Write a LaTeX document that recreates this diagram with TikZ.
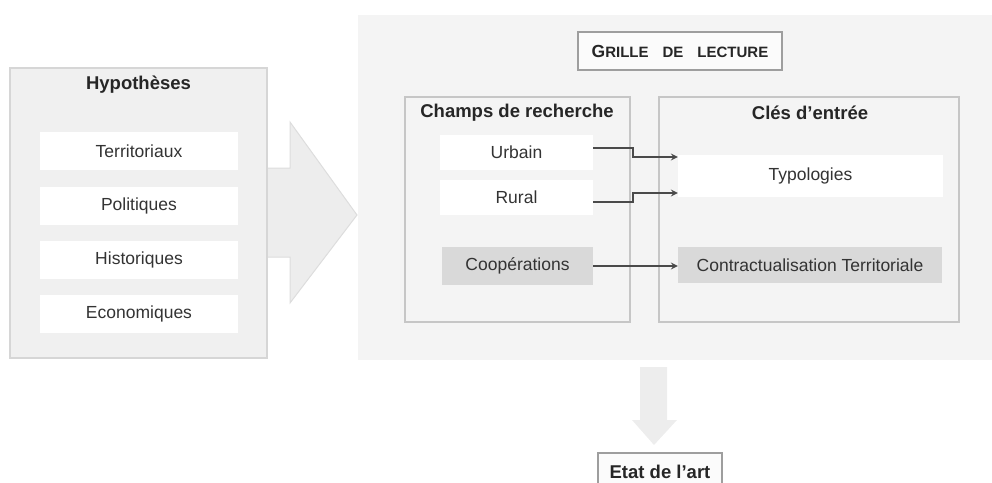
\documentclass[tikz,border=0pt]{standalone}
\usepackage{fontspec}
\setmainfont{Liberation Sans}
\usepackage{tikz}
\usetikzlibrary{arrows,positioning}

\definecolor{panelgray}{HTML}{F4F4F4}
\definecolor{leftgray}{HTML}{F0F0F0}
\definecolor{edgegray}{HTML}{D6D6D6}
\definecolor{boxedge}{HTML}{C6C6C6}
\definecolor{darkbox}{HTML}{D9D9D9}
\definecolor{bigarrow}{HTML}{EDEDED}
\definecolor{linkgray}{HTML}{4A4A4A}

\begin{document}
\begin{tikzpicture}[
x=1pt, y=-1pt,
title/.style={font=\bfseries\fontsize{18.5}{20}\selectfont, text=black!85},
item/.style={fill=white, draw=none, font=\fontsize{17.5}{20}\selectfont, text=black!80, inner sep=0pt},
greyitem/.style={item, fill=darkbox},
frame/.style={draw=boxedge, line width=1.6pt, fill=panelgray},
header/.style={draw=black!38, line width=1.2pt, fill=white!60!panelgray, inner sep=0pt, text=black!85},
link/.style={->, >=stealth, draw=linkgray, line width=2pt}
]
    \useasboundingbox (0,0) rectangle (992,482);

    % big arrow behind the left panel
    \fill [draw=edgegray!70!bigarrow, fill=bigarrow, line width=1pt]
    (262,168) -- (290,168) -- (290,122) -- (357,215) -- (290,303) -- (290,257) -- (262,257) -- cycle;

    % left panel
    \fill [draw=edgegray, fill=leftgray, line width=1.2pt]
    (10,68) rectangle (267,358);

    \node[title] (hyp) at (138.5,85) {Hypothèses};
    \node[item, minimum width=198pt, minimum height=38pt] (terr) at (139,151) {Territoriaux};
    \node[item, minimum width=198pt, minimum height=38pt] (poli) at (139,206) {Politiques};
    \node[item, minimum width=198pt, minimum height=38pt] (hist) at (139,260) {Historiques};
    \node[item, minimum width=198pt, minimum height=38pt] (econ) at (139,314) {Economiques};

    % right panel
    \fill [draw=none, fill=panelgray]
    (358,15) rectangle (992,360);

    \node[header, minimum width=204pt, minimum height=38pt] (grille) at (680,51)
    {\bfseries{\fontsize{17.5}{20}\selectfont G}{\fontsize{15}{20}\selectfont RILLE\hspace{14pt}DE\hspace{14pt}LECTURE}};

    \draw[frame] (405,97) rectangle (630,322);
    \draw[frame] (659,97) rectangle (959,322);

    \node[title] (champs) at (517,113) {Champs de recherche};
    \node[title] (cles) at (810,113) {Clés d'entrée};

    \node[item, minimum width=153pt, minimum height=35pt] (urbain) at (516.5,152.5) {Urbain};
    \node[item, minimum width=153pt, minimum height=35pt] (rural) at (516.5,197.5) {Rural};
    \node[greyitem, minimum width=151pt, minimum height=38pt] (coop) at (517.5,266) {Coopérations};

    \node[item, minimum width=265pt, minimum height=42pt] (typo) at (810.5,176) {Typologies};
    \node[greyitem, minimum width=264pt, minimum height=36pt] (contrat) at (810,265) {Contractualisation Territoriale};

    \draw[link] ([yshift=4.5pt]urbain.east) -- ++(40,0) |- ([yshift=19pt]typo.west);
    \draw[link] ([yshift=-4.5pt]rural.east) -- ++(40,0) |- ([yshift=-17pt]typo.west);
    \draw[link] (coop.east) -- (coop.east -| contrat.west);

    % arrow down to the state of the art
    \fill [draw=none, fill=bigarrow]
    (640,367) -- (667,367) -- (667,420) -- (677,420) -- (654,445) -- (632,420) -- (640,420) -- cycle;

    \node[header, font=\bfseries\fontsize{18.5}{20}\selectfont, minimum width=124pt, minimum height=38pt] (etat) at (660,472) {Etat de l'art};

\end{tikzpicture}
\end{document}
